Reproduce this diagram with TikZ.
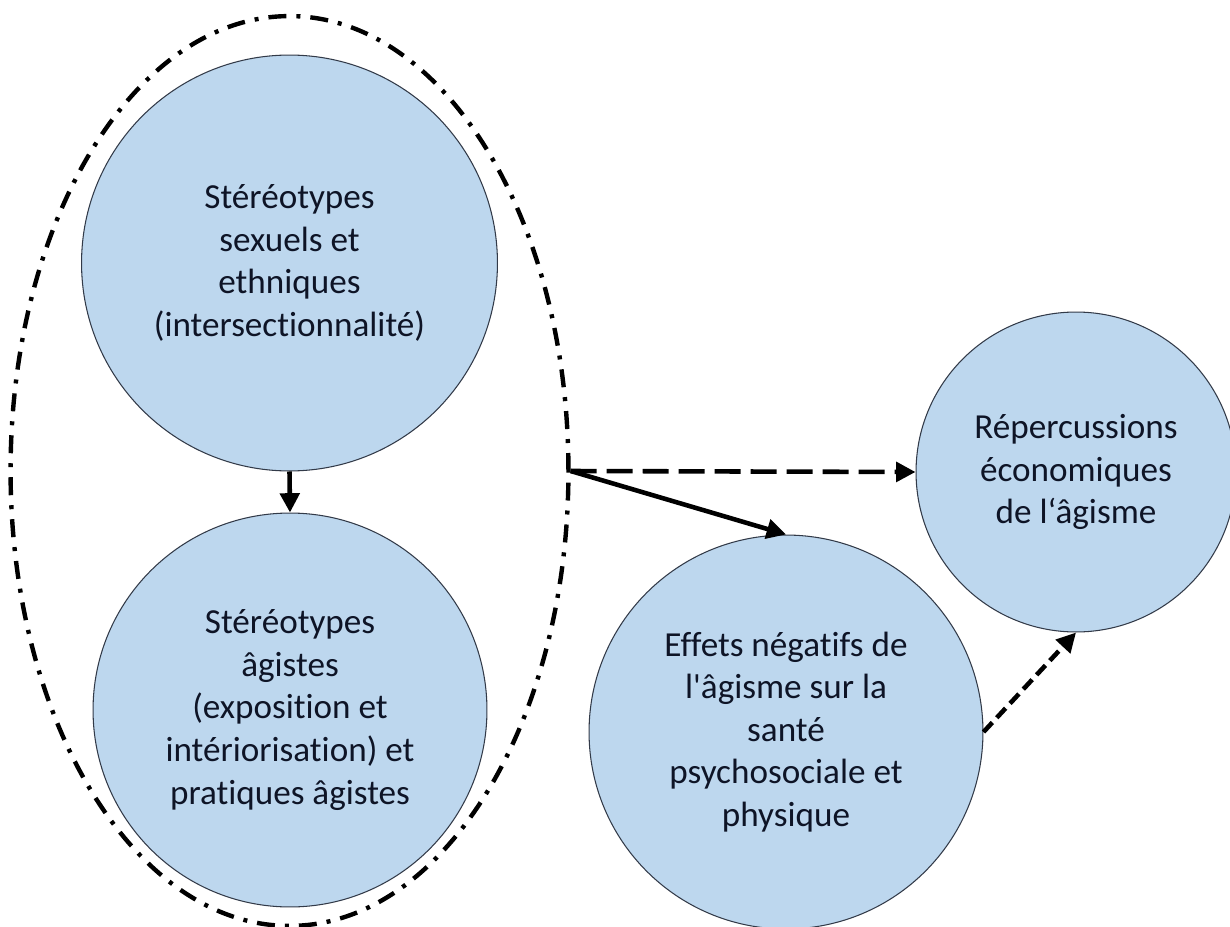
\documentclass[tikz,border=0pt]{standalone}
\usepackage{fontspec}
\setmainfont[Ligatures={NoCommon}]{Carlito}
\usetikzlibrary{arrows.meta,shapes.geometric}
\definecolor{fillb}{RGB}{189,215,238}
\definecolor{txt}{RGB}{14,20,38}
\definecolor{edgec}{RGB}{50,58,72}
\begin{document}
\begin{tikzpicture}[x=0.02cm,y=-0.02cm,
  bubble/.style={circle,draw=edgec,line width=0.6pt,fill=fillb,text=txt,align=center,inner sep=0pt,font=\fontsize{20}{24.2}\selectfont},
  grpshape/.style={ellipse,draw=black,line width=2.5pt,inner sep=0pt,dash pattern=on 0.36cm off 0.2cm on 0.08cm off 0.2cm},
  arr/.style={line width=2.6pt,-{Triangle[length=11pt,width=11pt]}},
  longdash/.style={dash pattern=on 0.52cm off 0.2cm},
  shortdash/.style={dash pattern=on 0.26cm off 0.13cm}]
\useasboundingbox (0,0) rectangle (1230,926);
\node[grpshape,minimum width=11.16cm,minimum height=18.2cm] (grp) at (289.5,471) {};
\node[bubble,minimum size=8.32cm] (top) at (289.5,263) {Stéréotypes\\sexuels et\\ethniques\\(intersectionnalité)};
\node[bubble,minimum size=7.88cm] (bot) at (290,710) {Stéréotypes\\âgistes\\(exposition et\\intériorisation) et\\pratiques âgistes};
\node[bubble,minimum size=7.88cm] (eff) at (786,732) {Effets négatifs de\\l\textquotesingle âgisme sur la\\santé\\psychosociale et\\physique};
\node[bubble,minimum size=6.4cm] (eco) at (1076,472) {Répercussions\\économiques\\de l‘âgisme};
\draw[arr] (top.south) -- (bot.north);
\draw[arr,longdash] (grp.east) -- (eco.west);
\draw[arr] (grp.east) -- (eff.north);
\draw[arr,shortdash] (eff.east) -- (eco.south);
\end{tikzpicture}
\end{document}
